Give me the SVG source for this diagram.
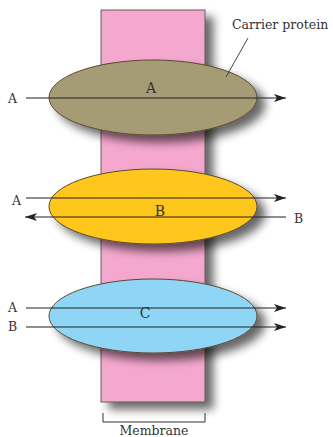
<svg xmlns="http://www.w3.org/2000/svg" width="333" height="437" viewBox="0 0 333 437">
<defs>
<filter id="sh" x="-20%" y="-20%" width="160%" height="160%">
<feGaussianBlur in="SourceAlpha" stdDeviation="5"/>
<feOffset dx="8" dy="7" result="b"/>
<feComponentTransfer><feFuncA type="linear" slope="0.6"/></feComponentTransfer>
<feMerge><feMergeNode/><feMergeNode in="SourceGraphic"/></feMerge>
</filter>
<marker id="ah" viewBox="0 0 12 8" refX="12" refY="4" markerWidth="12" markerHeight="8" markerUnits="userSpaceOnUse" orient="auto">
<path d="M0,0 L12,4 L0,8 L3,4 Z" fill="#222"/>
</marker>
</defs>
<style>
text{font-family:"DejaVu Serif","Liberation Serif",serif;fill:#333}
.lbl{font-size:12.5px}
.big{font-size:14px}
.ell{stroke:#5a4a30;stroke-width:1}
.arr{stroke:#222;stroke-width:1.2;fill:none;marker-end:url(#ah)}
</style>
<rect width="333" height="437" fill="#fff"/>
<g id="membrane">
<rect x="101" y="10" width="104" height="392" fill="#F5A8CE" stroke="#444" stroke-width="0.8" filter="url(#sh)"/>
</g>
<g id="proteinA">
<ellipse cx="153" cy="97.5" rx="104" ry="37.5" fill="#A59C74" class="ell" filter="url(#sh)"/>
<text x="151" y="93" class="big" text-anchor="middle">A</text>
</g>
<g id="proteinB">
<ellipse cx="153" cy="206.5" rx="104" ry="37.5" fill="#FFC61A" class="ell" filter="url(#sh)"/>
<text x="160" y="216" class="big" text-anchor="middle">B</text>
</g>
<g id="proteinC">
<ellipse cx="153" cy="316" rx="104" ry="37" fill="#8FD5F5" class="ell" filter="url(#sh)"/>
<text x="145" y="318" class="big" text-anchor="middle">C</text>
</g>
<g id="connectors">
<line x1="26" y1="98" x2="286" y2="98" class="arr"/>
<line x1="26" y1="198" x2="286" y2="198" class="arr"/>
<line x1="286" y1="217" x2="25" y2="217" class="arr"/>
<line x1="26" y1="308" x2="286" y2="308" class="arr"/>
<line x1="26" y1="327" x2="286" y2="327" class="arr"/>
<line x1="248" y1="38" x2="226" y2="77" stroke="#333" stroke-width="0.9"/>
<path d="M103,413 V422 H205 V413" fill="none" stroke="#333" stroke-width="1"/>
</g>
<g id="labels">
<text x="232" y="29" class="lbl">Carrier protein</text>
<text x="8" y="103" class="lbl">A</text>
<text x="12" y="205" class="lbl">A</text>
<text x="294" y="223" class="lbl">B</text>
<text x="8" y="312" class="lbl">A</text>
<text x="8" y="331" class="lbl">B</text>
<text x="154" y="435" class="lbl" text-anchor="middle">Membrane</text>
</g>
</svg>
